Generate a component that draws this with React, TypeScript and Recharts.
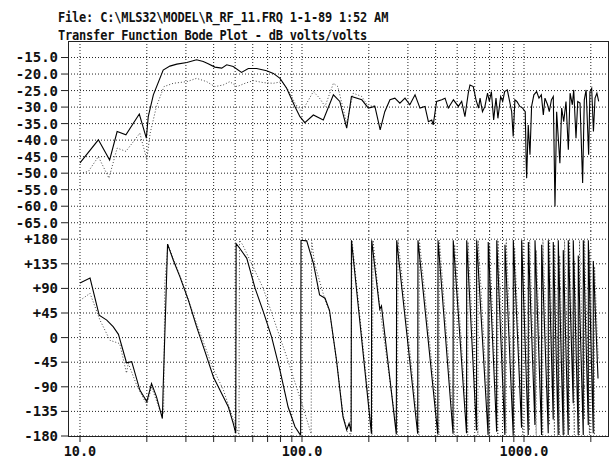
import { CartesianGrid, Line, LineChart, XAxis, YAxis } from 'recharts';

// frequency grid (Hz) and labelled decades
const gridFreqs = [10, 20, 30, 40, 50, 60, 70, 80, 90, 100, 200, 300, 400, 500, 600, 700, 800, 900, 1000, 2000];
const decadeLabels = [10, 100, 1000];

const magTicks = [-15, -20, -25, -30, -35, -40, -45, -50, -55, -60, -65];
const phaseTicks = [180, 135, 90, 45, 0, -45, -90, -135, -180];

// magnitude, measured (solid)
const magFreq = [
  10, 12.1, 13.6, 14.7, 16.1, 18.5, 19.9, 20.3, 21.4, 23.7, 25.4, 27.3, 30.3, 33.5, 35.9, 37.8, 40.5, 43.5, 45.8, 49,
  53.4, 57.3, 62.5, 69.3, 74.3, 79.6, 85.3, 92.9, 97.9, 103, 112.5, 124.7, 138.5, 148, 159, 167, 186, 199, 213, 225,
  236, 249, 262, 276, 291, 306, 323, 340, 358, 371, 384, 390, 404, 426, 441, 456, 481, 506, 524, 542,
  561, 571, 591, 608, 624, 634, 650, 667, 685, 698, 713, 730, 748, 763, 785, 802, 818, 841, 859, 880,
  894, 910, 929, 958, 986, 1013, 1023, 1028, 1045, 1064, 1082, 1108, 1140, 1168, 1197, 1222, 1243, 1277, 1300, 1329,
  1355, 1379, 1403, 1427, 1451, 1478, 1510, 1546, 1584, 1613, 1651, 1675, 1715, 1746, 1788, 1837, 1869, 1905, 1955, 1982,
  2018, 2055, 2089, 2130, 2170,
];
const magDb = [
  -46.9, -39.9, -46.0, -37.4, -38.4, -32.1, -39.4, -32.9, -26.3, -18.8, -17.6, -17.0, -16.5, -15.7, -16.2, -16.9, -17.9, -18.2, -17.2, -17.7,
  -19.5, -18.3, -18.3, -19.0, -19.8, -21.3, -24.3, -29.8, -32.9, -34.7, -32.4, -33.9, -26.3, -28.3, -36.4, -26.8, -27.8, -30.3, -29.8, -36.9,
  -31.4, -27.8, -27.3, -28.8, -27.3, -29.3, -26.3, -30.3, -29.8, -34.4, -33.9, -35.4, -28.3, -27.8, -27.3, -30.3, -27.8, -29.8, -28.3, -32.9,
  -25.8, -23.3, -23.8, -27.8, -30.3, -27.3, -31.4, -29.8, -25.8, -28.3, -25.3, -33.9, -27.3, -33.4, -26.8, -28.3, -25.3, -24.8, -27.8, -31.4,
  -38.9, -27.8, -28.3, -29.8, -30.3, -31.4, -46.5, -51.5, -35.4, -44.4, -29.8, -26.3, -25.3, -27.3, -26.3, -32.4, -27.3, -29.3, -31.4, -27.8,
  -26.8, -60.1, -31.4, -39.4, -47.0, -30.3, -34.4, -28.3, -42.9, -25.8, -29.3, -24.8, -39.4, -28.3, -28.8, -53.0, -27.8, -24.8, -44.4, -25.3,
  -24.3, -37.4, -27.3, -25.8, -28.3,
];

// magnitude, reference (dotted)
const magRefFreq = [
  10, 10.9, 12.1, 13.5, 14.7, 16.1, 18.6, 20, 20.7, 22.1, 23.9, 26.3, 30.3, 33.5, 37.2, 40.5, 44.2, 47.3, 50.9, 55.4,
  60.4, 67, 74.3, 81.2, 86.6, 93, 98, 103, 112.5, 120, 127, 138.5, 145, 159, 170, 186, 199, 213,
];
const magRefDb = [
  -50.0, -49.5, -45.0, -51.5, -42.4, -43.4, -37.9, -45.9, -37.9, -29.8, -23.8, -22.8, -22.3, -21.3, -22.3, -23.8, -23.3, -22.3, -23.8, -22.8,
  -22.0, -22.6, -22.8, -22.3, -24.8, -28.8, -31.0, -29.8, -25.3, -27.3, -29.8, -22.8, -23.8, -34.9, -25.8, -26.8, -29.8, -29.5,
];

// phase, measured (solid)
const phaseFreq = [
  10, 11.1, 12.2, 13.2, 14.1, 14.9, 16.2, 17.1, 18.6, 20, 21, 22.1, 23.5, 23.7, 24.4, 24.8, 26.3, 28.2, 30.8, 33.5,
  36.6, 39.9, 44.2, 46.6, 49, 50.3, 50.5, 52.5, 56.4, 61.5, 67, 73, 79.6, 86.6, 93, 97.9, 98.6, 99, 105, 112.5,
  120, 127, 133, 143, 153, 159, 163, 166.5, 167, 205.5, 206, 224, 228, 266, 267, 332, 333, 409, 410, 479,
  480, 551, 552, 611, 612, 689, 690, 753, 754, 820, 821, 894, 895, 975, 976, 1045, 1046, 1120, 1121, 1200,
  1201, 1286, 1287, 1354, 1355, 1426, 1427, 1502, 1503, 1582, 1583, 1666, 1667, 1755, 1756, 1849, 1850, 1948, 1949, 2051,
  2052, 2155,
];
const phaseDeg = [
  100, 109, 41, 32, 20, 6, -46, -44, -96, -117, -84, -108, -148, -90, 74, 171, 142, 111, 68, 20,
  -26, -72, -108, -127, -157, -175, 172, 163, 145, 90, 47, 1, -60, -127, -163, -177, -178, 178, 177, 136,
  78, 72, 50, -41, -145, -169, -157, -172, 178, -176, 178, 52, 58, -177, 178, -176, 178, -177, 178, -176,
  178, -175, 178, -170, 178, -178, 175, -172, 178, -178, 170, -178, 178, -165, 178, -178, 175, -160, 178, -178,
  170, -175, 178, -150, 175, -178, 178, -178, 160, -178, 178, -120, 178, -178, 150, -178, 178, -160, 178, -175,
  140, -75,
];

// phase, reference (dotted)
const phaseRefFreq = [
  10, 11.1, 12.3, 13.65, 15.1, 16.2, 16.5, 18, 20, 21, 22.9, 23.8, 24.1, 24.9, 28.2, 33.5, 39.9, 44.2, 49, 52,
  52.3, 54, 66.9, 85.3, 101, 110, 110.5, 114, 127, 133, 143, 153, 160, 166, 168, 207, 209, 224, 269, 271,
  336, 338, 414, 416, 485, 487, 558, 560, 620, 622, 698, 700, 762, 764, 830, 832, 905, 907, 988, 990,
  1058, 1060, 1135, 1137, 1215, 1217, 1302, 1304, 1372, 1374, 1445, 1447, 1520, 1522, 1602, 1604, 1686, 1688, 1777, 1779,
  1872, 1874, 1972, 1974, 2077, 2079, 2160,
];
const phaseRefDeg = [
  68, 81, 32, -5, -11, -65, -47, -87, -123, -90, -133, -140, 100, 170, 113, 26, -58, -95, -150, -178,
  178, 170, 90, -35, -127, -176, 178, 135, 69, 48, -41, -140, -172, -178, 178, -178, 178, 55, -178, 178,
  -178, 178, -178, 178, -178, 170, -178, 175, -178, 178, -178, 170, -178, 178, -175, 178, -178, 165, -178, 178,
  -170, 178, -178, 160, -178, 178, -160, 178, -178, 170, -178, 150, -178, 178, -170, 178, -178, 140, -178, 178,
  -150, 178, -178, 160, -178, 130, -40,
];

const zip = (fs: number[], vs: number[]) => fs.map((f, i) => ({ f, v: vs[i] }));
const magData = zip(magFreq, magDb);
const magRefData = zip(magRefFreq, magRefDb);
const phaseData = zip(phaseFreq, phaseDeg);
const phaseRefData = zip(phaseRefFreq, phaseRefDeg);

const xDomain = [8.83, 2390];
const magDomain = [-67.5, -10];
const phaseDomain = [-180, 195];
const font = 'DejaVu Sans Mono';
const tickFont = { fill: '#111', fontSize: 14, fontWeight: 700, fontFamily: font };

const fmtPhase = (v: number) => (v > 0 ? `+${v}` : String(v));
const fmtFreq = (v: number) => (decadeLabels.includes(v) ? v.toFixed(1) : '');

export default function App() {
  return (
    <div style={{ position: 'relative', width: 610, height: 459, padding: 8, boxSizing: 'border-box', background: '#fff' }}>
      <style>{'body{margin:0} #root{width:610px;height:459px;overflow:hidden}'}</style>
      <div
        style={{
          height: 33,
          paddingLeft: 50,
          boxSizing: 'border-box',
          fontFamily: font,
          fontWeight: 700,
          fontSize: 12,
          lineHeight: '16px',
          letterSpacing: -0.2,
          color: '#111',
          whiteSpace: 'pre',
        }}
      >
        <div style={{ transform: 'scaleY(1.15)', transformOrigin: 'top left' }}>
          <div>File: C:\MLS32\MODEL\R_RF_11.FRQ 1-1-89 1:52 AM</div>
          <div>Transfer Function Bode Plot - dB volts/volts</div>
        </div>
      </div>

      <LineChart width={602} height={190} margin={{ top: 0, right: 2, left: 0, bottom: 0 }}>
        <CartesianGrid stroke="#222" strokeDasharray="1 2" syncWithTicks />
        <XAxis
          type="number"
          dataKey="f"
          scale="log"
          domain={xDomain}
          ticks={gridFreqs}
          interval={0}
          height={0}
          axisLine={false}
          tickLine={false}
          tickFormatter={() => ''}
        />
        <YAxis
          type="number"
          domain={magDomain}
          ticks={magTicks}
          width={60}
          axisLine={false}
          tickSize={7}
          tickMargin={3}
          tickLine={{ stroke: '#222' }}
          tick={tickFont}
          tickFormatter={(v: number) => v.toFixed(1)}
          interval={0}
        />
        <Line data={magRefData} dataKey="v" type="linear" stroke="#444" strokeWidth={1} strokeDasharray="1 2" dot={false} isAnimationActive={false} />
        <Line data={magData} dataKey="v" type="linear" stroke="#000" strokeWidth={1.1} dot={false} isAnimationActive={false} />
      </LineChart>

      <LineChart width={602} height={228} margin={{ top: 0, right: 2, left: 0, bottom: 0 }}>
        <CartesianGrid stroke="#222" strokeDasharray="1 2" syncWithTicks />
        <XAxis
          type="number"
          dataKey="f"
          scale="log"
          domain={xDomain}
          ticks={gridFreqs}
          interval={0}
          height={23}
          axisLine={false}
          tickSize={6}
          tickMargin={4}
          tickLine={{ stroke: '#222' }}
          tick={{ ...tickFont, fontSize: 13.5 }}
          tickFormatter={fmtFreq}
        />
        <YAxis
          type="number"
          domain={phaseDomain}
          ticks={phaseTicks}
          width={60}
          axisLine={false}
          tickSize={7}
          tickMargin={3}
          tickLine={{ stroke: '#222' }}
          tick={tickFont}
          tickFormatter={fmtPhase}
          interval={0}
        />
        <Line data={phaseRefData} dataKey="v" type="linear" stroke="#444" strokeWidth={1} strokeDasharray="1 2" dot={false} isAnimationActive={false} />
        <Line data={phaseData} dataKey="v" type="linear" stroke="#000" strokeWidth={1.1} dot={false} isAnimationActive={false} />
      </LineChart>

      <div
        style={{
          position: 'absolute',
          left: 68,
          top: 41,
          width: 541,
          height: 396,
          boxSizing: 'border-box',
          border: '1px solid #222',
          pointerEvents: 'none',
        }}
      />
    </div>
  );
}
